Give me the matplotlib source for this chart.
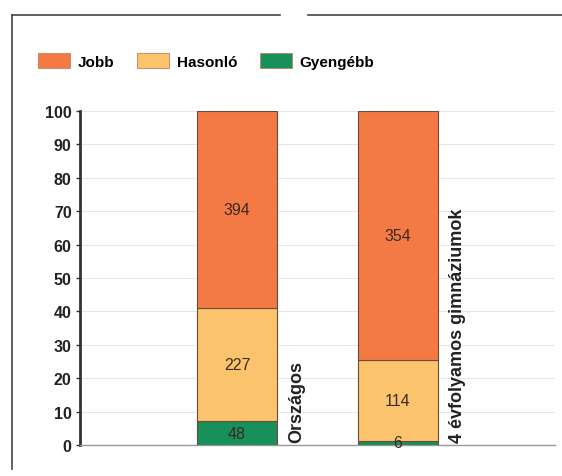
import matplotlib
matplotlib.use("Agg")
import matplotlib.pyplot as plt
import numpy as np
from matplotlib.lines import Line2D
from matplotlib.patches import Patch

categories = ["Országos", "4 évfolyamos gimnáziumok"]
series_names = ["Gyengébb", "Hasonló", "Jobb"]
gyengebb = [48, 6]
hasonlo = [227, 114]
jobb = [394, 354]
yticks = [0, 10, 20, 30, 40, 50, 60, 70, 80, 90, 100]

colors = {"Jobb": "#F47A45", "Hasonló": "#FBC46C", "Gyengébb": "#17905A"}
edge = "#6b4a3a"

plt.rcParams['font.family'] = ['Liberation Sans', 'DejaVu Sans']

fig = plt.figure(figsize=(5.62, 4.77), dpi=100)
ax = fig.add_axes([80/562, 1-446/477, (555-80)/562, (446-112)/477])

counts = np.array([gyengebb, hasonlo, jobb], dtype=float)
totals = counts.sum(axis=0)
pct = counts / totals * 100
x = np.arange(len(categories))
bottom = np.zeros(len(categories))
for name, c, p in zip(series_names, counts, pct):
    ax.bar(x, p, bottom=bottom, width=0.5, color=colors[name], edgecolor=edge, linewidth=0.8, zorder=3)
    for xi, bi, pi, ci in zip(x, bottom, p, c):
        ax.text(xi, bi + pi/2, f"{int(ci)}", ha="center", va="center", fontsize=11.5, color="#3a2a20", zorder=4)
    bottom += p

for xi, cat in zip(x, categories):
    ax.text(xi + 0.37, 1, cat, rotation=90, ha="center", va="bottom", fontsize=13,
            fontweight="bold", color="#222222", zorder=4)

ax.set_xlim(-0.975, 1.975)
ax.set_ylim(0, 100)
ax.set_yticks(yticks)
ax.set_yticklabels([str(t) for t in yticks], fontsize=11.5, fontweight="bold", color="#222222")
ax.set_xticks([])
ax.grid(axis="y", color="#e6e6e6", linewidth=0.8, zorder=0)
for s in ["top", "right"]:
    ax.spines[s].set_visible(False)
ax.spines["left"].set_color("#333333")
ax.spines["left"].set_linewidth(2.0)
ax.spines["bottom"].set_color("#999999")
ax.spines["bottom"].set_linewidth(1.0)
ax.tick_params(axis="y", length=3, width=1, color="#333333", pad=3)

handles = [Patch(facecolor=colors[n], edgecolor="#c08060", linewidth=0.6) for n in ["Jobb", "Hasonló", "Gyengébb"]]
fig.legend(handles, ["Jobb", "Hasonló", "Gyengébb"], loc="center left",
           bbox_to_anchor=(24/562, 1-62/477), ncol=3, frameon=False,
           prop={"size": 11, "weight": "bold"},
           handlelength=2.1, handleheight=1.15, columnspacing=1.5, handletextpad=0.5)

# scan frame lines
fig.add_artist(Line2D([12/562, 12/562], [1-16/477, 1-470/477], color="#444444", linewidth=1.2))
fig.add_artist(Line2D([12/562, 280/562], [1-16/477, 1-16/477], color="#444444", linewidth=1.2))
fig.add_artist(Line2D([308/562, 562/562], [1-16/477, 1-16/477], color="#444444", linewidth=1.2))

fig.savefig("out.png", dpi=100, facecolor="white")
